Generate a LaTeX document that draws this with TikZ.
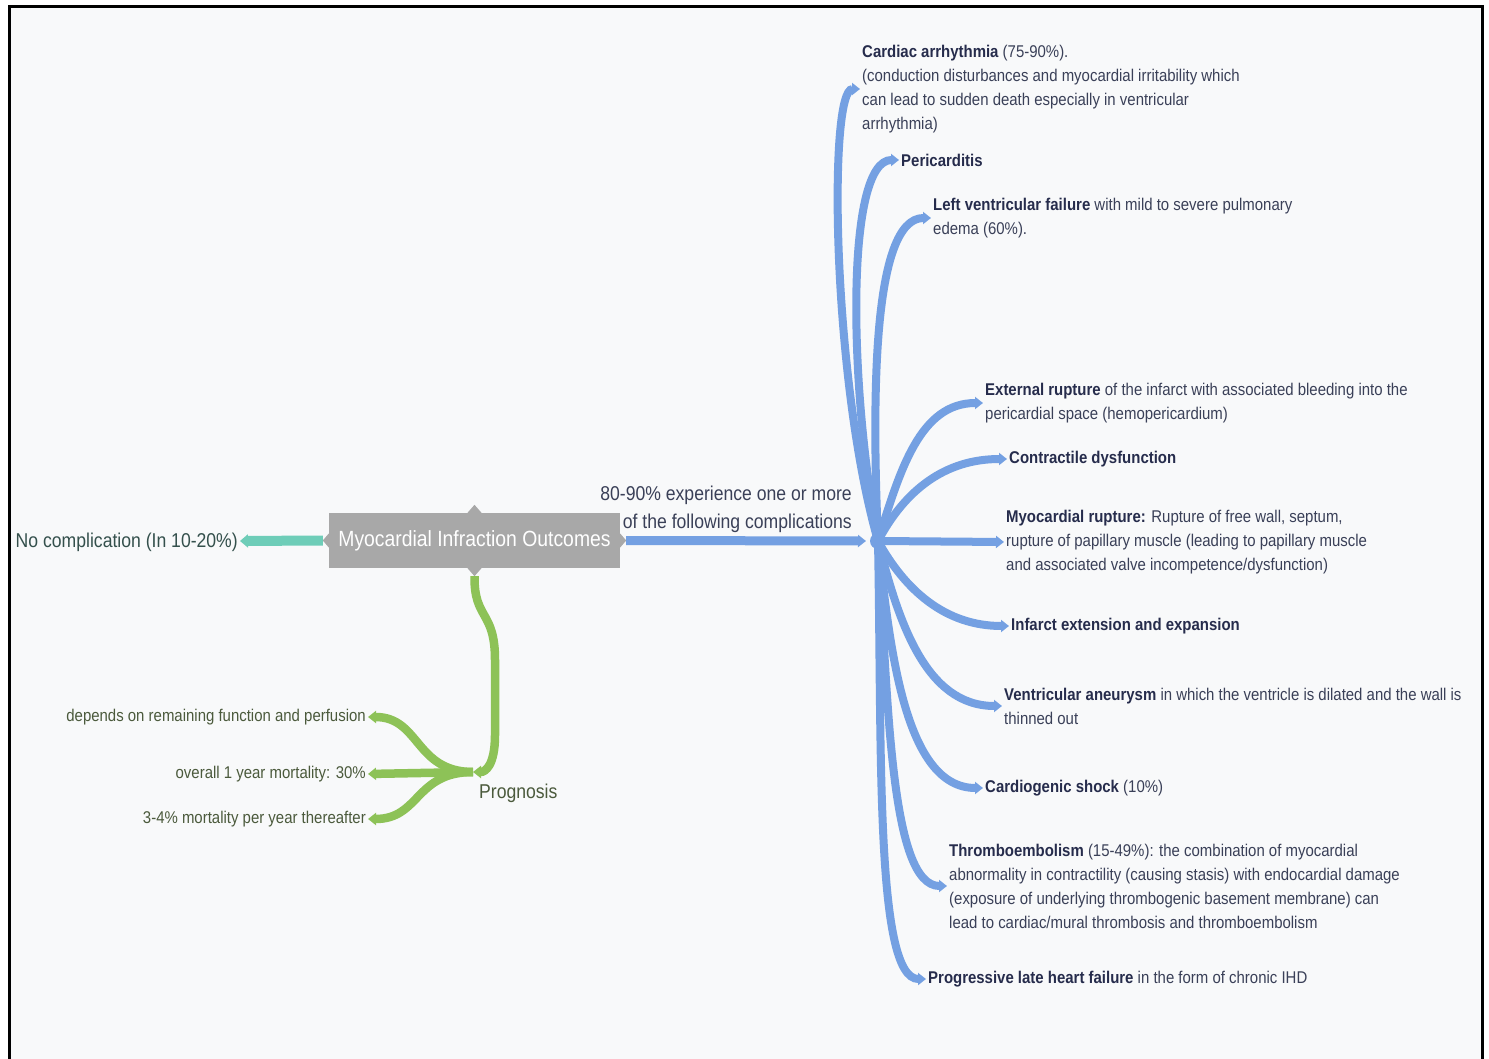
\documentclass[tikz,border=0pt]{standalone}
\usepackage{fontspec}
\setmainfont{Liberation Sans}[FakeStretch=0.88]
\usetikzlibrary{arrows.meta,positioning,calc}
\definecolor{bgpaper}{HTML}{F8F9FA}
\definecolor{bluebr}{HTML}{74A0E2}
\definecolor{greenbr}{HTML}{8DC257}
\definecolor{tealbr}{HTML}{6ECDB8}
\definecolor{boxgray}{HTML}{A8A8A8}
\definecolor{navytxt}{HTML}{3A4058}
\definecolor{navybold}{HTML}{262C4C}
\definecolor{olivetxt}{HTML}{4B5A3C}
\definecolor{tealtxt}{HTML}{34504C}
\newcommand{\hd}[1]{\textbf{\color{navybold}#1}}

\begin{document}
\begin{tikzpicture}[x=1pt, y=-1pt,
    central/.style={fill=boxgray, text=white, minimum width=291pt, minimum height=55pt, inner sep=0pt, font=\fontsize{22}{26}\selectfont},
    item/.style={anchor=west, align=left, inner sep=2pt, text=navytxt, font=\fontsize{17}{24}\selectfont},
    subitem/.style={anchor=east, inner sep=2pt, text=olivetxt, font=\fontsize{17}{24}\selectfont},
    bluelink/.style={draw=bluebr, line width=8pt, -{Triangle[length=8pt,width=12pt]}},
    greenlink/.style={draw=greenbr, line width=8.5pt, -{Triangle[length=8pt,width=12pt]}},
    teallink/.style={draw=tealbr, line width=10pt, -{Triangle[length=8pt,width=13pt]}}
  ]
  \useasboundingbox (0,0) rectangle (1489,1059);
  \fill[white] (0,0) rectangle (1489,1059);
  \fill[bgpaper] (9,7) rectangle (1482,1059);
  \draw[line width=3pt] (9,1059) -- (9,7) -- (1482,7) -- (1482,1059);

  % Centre
  \node[central] (mio) at (474.5,540.5) {\raisebox{-2pt}{Myocardial Infraction Outcomes}};
  \fill[boxgray] ($(mio.north)+(-7,0)$) -- ($(mio.north)+(0,-8)$) -- ($(mio.north)+(7,0)$) -- cycle;
  \fill[boxgray] ($(mio.south)+(-7,0)$) -- ($(mio.south)+(0,8)$) -- ($(mio.south)+(7,0)$) -- cycle;
  \fill[boxgray] ($(mio.west)+(0,-7)$) -- ($(mio.west)+(-6,0)$) -- ($(mio.west)+(0,7)$) -- cycle;
  \fill[boxgray] ($(mio.east)+(0,-7)$) -- ($(mio.east)+(6,0)$) -- ($(mio.east)+(0,7)$) -- cycle;

  % No complication
  \node[anchor=east, inner sep=2pt, text=tealtxt, font=\fontsize{20}{24}\selectfont] (nocomp) at (240,542) {No complication (In 10-20\%)};
  \draw[teallink] ($(mio.west)+(-6,0)$) -- ($(nocomp.east)+(0,-1)$);

  % Complications
  \coordinate (hub) at (878,541);
  \coordinate (hubin) at (866,541);
  \node[anchor=south east, align=right, inner sep=2pt, text=navytxt, font=\fontsize{20}{28}\selectfont] (cmpl) at (854,535) {80-90\% experience one or more\\of the following complications};
  \draw[bluelink, line width=9pt] ($(mio.east)+(6,0)$) -- (hubin);
  \fill[bluebr] (hub) circle (8pt);

  \node[item] (arr) at (860,89) {\hd{Cardiac arrhythmia} (75-90\%).\\(conduction disturbances and myocardial irritability which\\can lead to sudden death especially in ventricular\\arrhythmia)};
  \node[item] (peri) at (899,160) {\hd{Pericarditis}};
  \node[item] (lvf) at (931,218) {\hd{Left ventricular failure} with mild to severe pulmonary\\edema (60\%).};
  \node[item] (ext) at (983,403) {\hd{External rupture} of the infarct with associated bleeding into the\\pericardial space (hemopericardium)};
  \node[item] (contr) at (1007,459) {\hd{Contractile dysfunction}};
  \node[item] (myo) at (1004,542) {\hd{Myocardial rupture:} Rupture of free wall, septum,\\rupture of papillary muscle (leading to papillary muscle\\and associated valve incompetence/dysfunction)};
  \node[item] (inf) at (1009,626) {\hd{Infarct extension and expansion}};
  \node[item] (ven) at (1002,706) {\hd{Ventricular aneurysm} in which the ventricle is dilated and the wall is\\thinned out};
  \node[item] (card) at (983,788) {\hd{Cardiogenic shock} (10\%)};
  \node[item] (thr) at (947,886) {\hd{Thromboembolism} (15-49\%): the combination of myocardial\\abnormality in contractility (causing stasis) with endocardial damage\\(exposure of underlying thrombogenic basement membrane) can\\lead to cardiac/mural thrombosis and thromboembolism};
  \node[item] (late) at (926,979) {\hd{Progressive late heart failure} in the form of chronic IHD};

  \foreach \n/\ax/\ay/\bx/\by in {arr/832/380/828/89, peri/848/380/846/160, lvf/872/400/872/218,
      ext/900/470/920/403, contr/905/490/945/459, inf/905/590/945/626, ven/898/620/925/706,
      card/890/650/905/788, thr/888/700/890/886, late/882/750/875/979} {
    \draw[bluelink] (hub) .. controls (\ax,\ay) and (\bx,\by) .. (\n.west);
  }
  \draw[bluelink] (hub) -- (myo.west);

  % Prognosis
  \coordinate (pj) at (473,772);
  \node[anchor=north west, inner sep=1pt, text=olivetxt, font=\fontsize{20}{24}\selectfont] (progn) at (478,783) {Prognosis};
  \draw[greenlink] ($(mio.south)+(0,8)$) .. controls (474,620) and (495,610) .. (495,660) -- (495,735) .. controls (495,766) and (485,772) .. (pj);

  \node[subitem] (dep) at (368,717) {depends on remaining function and perfusion};
  \node[subitem] (yr) at (368,774) {overall 1 year mortality: 30\%};
  \node[subitem] (mort) at (368,819) {3-4\% mortality per year thereafter};
  \draw[greenlink] (pj) .. controls (415,772) and (420,717) .. (dep.east);
  \draw[greenlink] (pj) -- (yr.east);
  \draw[greenlink] (pj) .. controls (415,772) and (420,819) .. (mort.east);
\end{tikzpicture}
\end{document}
